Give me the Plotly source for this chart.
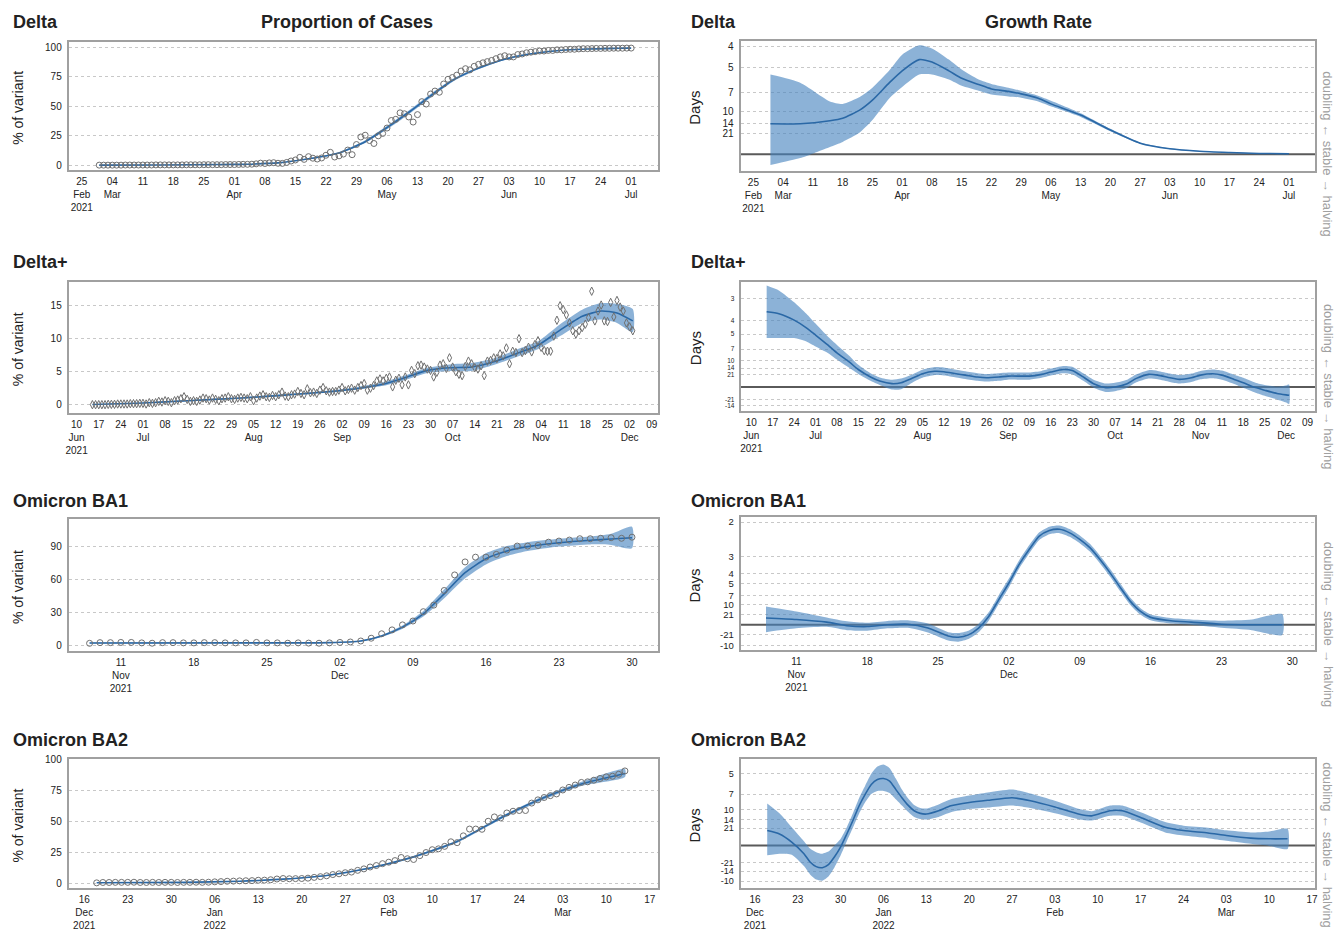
import plotly.graph_objects as go
import pandas as pd
import math

W, H = 1341, 931

# ------------------------------------------------------------------ data
# ---- Delta : proportion of cases (daily points from 2021-03-01)
delta_pts_start = "2021-03-01"
delta_pts = [
    0.1, 0.1, 0.1, 0.1, 0.1, 0.1, 0.2, 0.2, 0.2, 0.2, 0.2, 0.2, 0.2, 0.3, 0.3, 0.3,
    0.3, 0.3, 0.3, 0.3, 0.4, 0.4, 0.4, 0.4, 0.5, 0.5, 0.5, 0.5, 0.5, 0.6, 0.6,
    0.6, 0.7, 0.8, 0.8, 0.9, 1.2, 1.8, 1.5, 2.0, 2.2,
    1.7, 1.6, 2.4, 3.6, 4.5, 6.7, 5.0, 7.3, 6.0, 5.3,
    6.2, 8.5, 11.0, 7.0, 8.0, 9.5, 12.9, 9.0, 17.6, 24.0,
    25.5, 21.0, 18.5, 25.0, 27.0, 31.6, 38.0, 39.0, 44.5, 43.7,
    41.0, 36.7, 43.0, 54.0, 52.0, 60.5, 63.0, 62.0, 69.0, 73.0,
    74.5, 76.5, 80.0, 82.0, 81.0, 84.0, 85.7, 87.0, 88.0, 89.0, 90.5,
    92.0, 93.0, 92.0, 92.0, 94.0, 94.5, 95.5, 96.0, 96.5, 97.0,
    97.0, 97.5, 97.5, 98.0, 98.0, 98.3, 98.5, 98.5, 98.8, 99.0,
    99.0, 99.1, 99.2, 99.2, 99.3, 99.3, 99.4, 99.4, 99.4, 99.5,
    99.5,
]
delta_fit_dates = ["2021-03-01", "2021-03-15", "2021-03-29", "2021-04-04", "2021-04-11",
                   "2021-04-18", "2021-04-25", "2021-05-01", "2021-05-06", "2021-05-11",
                   "2021-05-16", "2021-05-21", "2021-05-26", "2021-06-01", "2021-06-07",
                   "2021-06-14", "2021-06-21", "2021-06-28", "2021-07-01"]
delta_fit = [0.1, 0.2, 0.6, 0.9, 2.0, 5.5, 10.5, 20.0, 32.0, 45.0, 59.0, 72.0, 81.0,
             89.0, 94.0, 97.3, 98.7, 99.3, 99.5]
delta_fit_lo = [0.05, 0.15, 0.5, 0.8, 1.8, 5.0, 9.7, 18.8, 30.5, 43.4, 57.4, 70.8, 80.0,
                88.3, 93.5, 97.0, 98.5, 99.1, 99.3]
delta_fit_hi = [0.15, 0.25, 0.7, 1.0, 2.2, 6.0, 11.3, 21.2, 33.5, 46.6, 60.6, 73.2, 82.0,
                89.7, 94.5, 97.6, 98.9, 99.5, 99.7]

# ---- Delta : growth rate (per day)
delta_gr_dates = ["2021-03-01", "2021-03-08", "2021-03-15", "2021-03-18", "2021-03-22",
                  "2021-03-25", "2021-03-29", "2021-04-01", "2021-04-05", "2021-04-08",
                  "2021-04-12", "2021-04-15", "2021-04-19", "2021-04-22", "2021-04-26",
                  "2021-04-29", "2021-05-03", "2021-05-06", "2021-05-13", "2021-05-20",
                  "2021-05-27", "2021-06-03", "2021-06-10", "2021-06-17", "2021-06-24",
                  "2021-07-01"]
delta_gr = [0.049, 0.049, 0.054, 0.058, 0.071, 0.087, 0.115, 0.134, 0.152, 0.148, 0.134,
            0.122, 0.112, 0.105, 0.101, 0.097, 0.090, 0.081, 0.063, 0.039, 0.018, 0.009,
            0.005, 0.003, 0.0015, 0.001]
delta_gr_hi = [0.128, 0.115, 0.085, 0.081, 0.092, 0.107, 0.135, 0.160, 0.175, 0.170, 0.152,
               0.136, 0.120, 0.113, 0.107, 0.102, 0.094, 0.086, 0.066, 0.041, 0.019, 0.0097,
               0.0055, 0.0034, 0.0019, 0.0014]
delta_gr_lo = [-0.017, -0.006, 0.012, 0.020, 0.035, 0.055, 0.090, 0.108, 0.128, 0.128, 0.120,
               0.110, 0.102, 0.096, 0.093, 0.091, 0.085, 0.077, 0.060, 0.037, 0.017, 0.0083,
               0.0045, 0.0026, 0.0011, 0.0006]

# ---- Delta+ : proportion of cases (daily points from 2021-06-15)
deltap_pts_start = "2021-06-15"
deltap_pts = [
    0.0, 0.0, 0.0, 0.0, 0.0, 0.05, 0.05, 0.05, 0.1, 0.1, 0.1, 0.1, 0.15, 0.15, 0.15, 0.2,
    0.2, 0.1, 0.3, 0.2, 0.3, 0.5, 0.4, 0.6, 0.5, 0.3, 0.6, 0.7, 0.9, 1.2, 0.8, 0.5,
    0.6, 0.5, 0.7, 1.0, 0.9, 0.7, 1.0, 0.8, 0.6, 0.9, 1.0, 1.2, 0.9, 0.8, 1.0,
    1.1, 1.0, 0.9, 1.2, 0.6, 1.0, 1.3, 1.5, 1.2, 1.1, 1.4, 1.2, 1.5, 1.9, 1.3, 1.2,
    1.5, 1.6, 2.0, 1.7, 1.5, 2.4, 1.8, 1.9, 1.7, 2.2, 2.6, 2.1, 1.9, 2.0, 2.0,
    2.2, 2.6, 2.1, 2.3, 2.5, 2.2, 2.6, 2.9, 3.2, 2.2, 2.5, 2.9, 3.6, 3.9,
    3.6, 4.0, 4.2, 2.7, 3.7, 4.0, 3.0, 4.2, 3.0, 5.2, 4.7, 5.9, 6.0, 5.7, 5.4, 5.2,
    4.2, 4.9, 6.0, 6.2, 5.5, 7.1, 5.7, 5.0, 4.6, 4.4, 5.8, 6.6, 6.2, 5.6, 5.4, 5.9,
    4.4, 6.6, 6.7, 7.1, 7.0, 7.7, 7.4, 8.6, 6.2, 8.1, 7.9, 10.0, 7.9, 8.2, 8.7,
    8.0, 9.1, 9.7, 8.7, 8.2, 8.1, 8.1, 10.4, 12.8, 15.0, 14.4, 13.6, 12.4, 11.2, 10.7,
    11.2, 11.7, 12.2, 13.2, 17.2, 12.7, 14.2, 15.1, 12.7, 12.6, 15.5, 13.3, 15.8, 14.8, 14.2,
    12.4, 11.8, 11.2,
]
deltap_fit_dates = ["2021-06-15", "2021-07-01", "2021-07-15", "2021-08-01", "2021-08-15",
                    "2021-09-01", "2021-09-15", "2021-09-22", "2021-09-29", "2021-10-06",
                    "2021-10-13", "2021-10-20", "2021-10-27", "2021-11-03", "2021-11-10",
                    "2021-11-17", "2021-11-23", "2021-11-28", "2021-12-03"]
deltap_fit = [0.02, 0.25, 0.6, 1.0, 1.45, 2.1, 3.1, 4.1, 5.2, 5.6, 5.7, 6.5, 7.7, 9.0,
              11.3, 13.4, 14.2, 13.9, 12.7]
deltap_fit_lo = [0.0, 0.2, 0.5, 0.9, 1.35, 1.95, 2.85, 3.75, 4.8, 5.1, 5.1, 6.0, 7.2, 8.4,
                 10.4, 12.4, 12.9, 12.4, 11.0]
deltap_fit_hi = [0.05, 0.3, 0.7, 1.1, 1.6, 2.3, 3.4, 4.45, 5.6, 6.1, 6.3, 7.0, 8.3, 9.6,
                 12.2, 14.4, 15.4, 15.3, 14.5]

# ---- Delta+ : growth rate
deltap_gr_dates = ["2021-06-15", "2021-06-19", "2021-06-24", "2021-06-28", "2021-07-01",
                   "2021-07-05", "2021-07-08", "2021-07-12", "2021-07-15", "2021-07-19",
                   "2021-07-22", "2021-07-26", "2021-07-29", "2021-08-02", "2021-08-05",
                   "2021-08-09", "2021-08-12", "2021-08-16", "2021-08-19", "2021-08-23",
                   "2021-08-26", "2021-08-30", "2021-09-02", "2021-09-06", "2021-09-09",
                   "2021-09-13", "2021-09-16", "2021-09-20", "2021-09-23", "2021-09-27",
                   "2021-09-30", "2021-10-04", "2021-10-07", "2021-10-11", "2021-10-14",
                   "2021-10-18", "2021-10-21", "2021-10-25", "2021-10-28", "2021-11-01",
                   "2021-11-04", "2021-11-08", "2021-11-11", "2021-11-15", "2021-11-18",
                   "2021-11-22", "2021-11-25", "2021-11-29", "2021-12-02", "2021-12-03"]
deltap_gr = [0.197, 0.192, 0.175, 0.155, 0.136, 0.110, 0.089, 0.0655, 0.0457, 0.026,
             0.0155, 0.0086, 0.011, 0.024, 0.0345, 0.041, 0.040, 0.0345, 0.031, 0.026,
             0.024, 0.026, 0.0284, 0.0284, 0.0284, 0.033, 0.039, 0.0457, 0.043, 0.024,
             0.0086, -0.0017, 0.0, 0.0086, 0.0224, 0.033, 0.031, 0.024, 0.0198, 0.024,
             0.031, 0.0345, 0.031, 0.0198, 0.011, -0.0017, -0.0086, -0.0172, -0.0207, -0.0216]
deltap_gr_hi = [0.266, 0.253, 0.222, 0.192, 0.166, 0.132, 0.110, 0.082, 0.058, 0.036,
                0.025, 0.019, 0.022, 0.034, 0.045, 0.052, 0.051, 0.045, 0.041, 0.036,
                0.034, 0.036, 0.038, 0.038, 0.038, 0.042, 0.048, 0.055, 0.053, 0.034,
                0.019, 0.009, 0.011, 0.019, 0.033, 0.044, 0.042, 0.035, 0.031, 0.035,
                0.042, 0.046, 0.043, 0.032, 0.024, 0.011, 0.005, 0.001, 0.004, 0.006]
deltap_gr_lo = [0.128, 0.128, 0.128, 0.119, 0.106, 0.089, 0.0716, 0.050, 0.034, 0.016,
                0.005, -0.007, -0.006, 0.013, 0.024, 0.031, 0.030, 0.025, 0.021, 0.016,
                0.014, 0.016, 0.019, 0.019, 0.019, 0.024, 0.030, 0.036, 0.033, 0.014,
                -0.002, -0.013, -0.011, -0.002, 0.012, 0.022, 0.020, 0.013, 0.009, 0.013,
                0.020, 0.023, 0.019, 0.008, -0.002, -0.015, -0.023, -0.033, -0.041, -0.045]

# ---- Omicron BA1 : proportion of cases (daily points from 2021-11-08)
ba1_pts_start = "2021-11-08"
ba1_pts = [
    2.4, 3.0, 3.0, 3.2, 3.2, 2.8, 2.5, 3.0, 3.0, 2.8, 2.8, 3.0, 3.0, 2.8, 2.8, 2.8,
    3.2, 2.8, 2.8, 2.5, 2.8, 2.6, 2.5, 2.8, 3.2, 3.6,
    4.5, 7.0, 11.0, 14.5, 19.0, 22.5, 30.9, 36.8, 50.0, 64.0, 75.7, 80.0, 80.0, 82.5,
    86.4, 90.0, 90.0, 90.5, 93.5, 94.5, 95.4, 96.6, 96.6, 97.0, 97.5, 97.0, 98.0,
]
ba1_fit_dates = ["2021-11-08", "2021-11-22", "2021-12-01", "2021-12-04", "2021-12-06",
                 "2021-12-08", "2021-12-10", "2021-12-12", "2021-12-14", "2021-12-16",
                 "2021-12-18", "2021-12-20", "2021-12-23", "2021-12-26", "2021-12-28",
                 "2021-12-30"]
ba1_fit = [2.7, 2.8, 3.0, 4.5, 9.0, 17.0, 29.0, 47.0, 66.0, 78.5, 85.5, 89.5, 93.0,
           95.2, 96.3, 97.5]
ba1_fit_lo = [2.3, 2.5, 2.7, 4.0, 8.0, 15.5, 26.5, 43.0, 61.0, 73.5, 81.0, 85.5, 89.5,
              91.5, 91.0, 88.0]
ba1_fit_hi = [3.1, 3.1, 3.3, 5.0, 10.0, 18.5, 31.5, 51.0, 71.0, 83.5, 90.0, 93.5, 96.5,
              98.5, 101.0, 107.5]

# ---- Omicron BA1 : growth rate
ba1_gr_dates = ["2021-11-08", "2021-11-11", "2021-11-14", "2021-11-16", "2021-11-18",
                "2021-11-20", "2021-11-22", "2021-11-24", "2021-11-26", "2021-11-27",
                "2021-11-28", "2021-11-29", "2021-11-30", "2021-12-01", "2021-12-02",
                "2021-12-03", "2021-12-04", "2021-12-05", "2021-12-06", "2021-12-07",
                "2021-12-08", "2021-12-09", "2021-12-10", "2021-12-11", "2021-12-12",
                "2021-12-13", "2021-12-14", "2021-12-15", "2021-12-16", "2021-12-18",
                "2021-12-20", "2021-12-23", "2021-12-26", "2021-12-29"]
ba1_gr = [0.023, 0.018, 0.009, -0.003, -0.006, 0.000, 0.002, -0.011, -0.038, -0.042,
          -0.034, -0.011, 0.028, 0.085, 0.141, 0.203, 0.254, 0.299, 0.318, 0.322, 0.310,
          0.288, 0.260, 0.220, 0.175, 0.126, 0.079, 0.045, 0.025, 0.0135, 0.009, 0.002,
          0.0, 0.0]
ba1_gr_hi = [0.062, 0.045, 0.025, 0.012, 0.007, 0.013, 0.015, 0.004, -0.025, -0.028,
             -0.020, 0.003, 0.042, 0.100, 0.156, 0.217, 0.268, 0.312, 0.331, 0.335, 0.323,
             0.301, 0.273, 0.233, 0.188, 0.139, 0.091, 0.056, 0.035, 0.023, 0.018, 0.014,
             0.018, 0.036]
ba1_gr_lo = [-0.025, -0.012, -0.007, -0.018, -0.020, -0.012, -0.010, -0.026, -0.053,
             -0.057, -0.048, -0.025, 0.014, 0.070, 0.126, 0.189, 0.240, 0.286, 0.305,
             0.309, 0.297, 0.275, 0.247, 0.207, 0.162, 0.113, 0.067, 0.034, 0.015, 0.004,
             0.0, -0.010, -0.018, -0.034]

# ---- Omicron BA2 : proportion of cases (daily points from 2021-12-18)
ba2_pts_start = "2021-12-18"
ba2_pts = [
    0.5, 0.8, 0.8, 0.9, 0.9, 0.9, 1.0, 0.8, 0.8, 0.9, 0.8, 0.9, 0.9, 0.8,
    0.9, 0.9, 1.0, 0.9, 1.0, 1.3, 1.5, 1.8, 1.9, 2.1, 2.2, 2.3, 2.6, 2.7, 3.0, 3.6,
    4.0, 3.8, 3.9, 4.0, 4.3, 4.9, 5.5, 6.2, 7.2, 7.8, 8.7, 9.2, 10.6, 11.8, 13.3,
    14.5, 16.0, 17.2, 18.5, 21.0, 20.0, 19.4, 22.5, 25.0, 27.3, 28.0, 30.0, 33.7, 33.0,
    38.5, 44.0, 44.0, 43.8, 50.3, 53.8, 53.0, 57.0, 58.4, 59.0, 59.0, 65.0, 67.6, 69.5,
    71.0, 72.4, 75.6, 77.7, 79.6, 81.7, 82.2, 83.5, 84.9, 86.2, 86.7, 88.3, 91.0,
]
ba2_fit_dates = ["2021-12-18", "2022-01-01", "2022-01-10", "2022-01-17", "2022-01-24",
                 "2022-01-31", "2022-02-07", "2022-02-14", "2022-02-21", "2022-02-28",
                 "2022-03-06", "2022-03-13"]
ba2_fit = [0.6, 0.9, 1.8, 3.5, 6.5, 12.5, 21.5, 34.0, 53.0, 69.5, 80.5, 89.0]
ba2_fit_lo = [0.5, 0.8, 1.6, 3.2, 6.1, 11.9, 20.7, 33.0, 51.8, 68.0, 78.8, 86.0]
ba2_fit_hi = [0.7, 1.0, 2.0, 3.8, 6.9, 13.1, 22.3, 35.0, 54.2, 71.0, 82.2, 92.5]

# ---- Omicron BA2 : growth rate
ba2_gr_dates = ["2021-12-18", "2021-12-20", "2021-12-22", "2021-12-24", "2021-12-25",
                "2021-12-26", "2021-12-27", "2021-12-28", "2021-12-29", "2021-12-30",
                "2021-12-31", "2022-01-01", "2022-01-02", "2022-01-03", "2022-01-04",
                "2022-01-05", "2022-01-06", "2022-01-07", "2022-01-08", "2022-01-09",
                "2022-01-10", "2022-01-11", "2022-01-12", "2022-01-13", "2022-01-15",
                "2022-01-17", "2022-01-20", "2022-01-23", "2022-01-27", "2022-01-30",
                "2022-02-03", "2022-02-07", "2022-02-09", "2022-02-12", "2022-02-14",
                "2022-02-17", "2022-02-21", "2022-02-24", "2022-02-28", "2022-03-03",
                "2022-03-07", "2022-03-10", "2022-03-13"]
ba2_gr = [0.0286, 0.022, 0.0064, -0.016, -0.032, -0.041, -0.043, -0.037, -0.022, -0.003,
          0.022, 0.048, 0.076, 0.0985, 0.1176, 0.127, 0.129, 0.124, 0.108, 0.092, 0.0776,
          0.0668, 0.0617, 0.0604, 0.0668, 0.0763, 0.0826, 0.087, 0.092, 0.086, 0.074,
          0.060, 0.057, 0.0668, 0.0668, 0.054, 0.035, 0.0286, 0.024, 0.019, 0.014,
          0.0127, 0.0127]
ba2_gr_hi = [0.081, 0.062, 0.035, 0.008, -0.006, -0.013, -0.016, -0.012, 0.0, 0.013,
             0.035, 0.062, 0.091, 0.115, 0.138, 0.152, 0.156, 0.149, 0.129, 0.108, 0.091,
             0.078, 0.072, 0.071, 0.079, 0.089, 0.096, 0.102, 0.108, 0.100, 0.086, 0.070,
             0.066, 0.077, 0.077, 0.064, 0.045, 0.038, 0.034, 0.029, 0.025, 0.027, 0.032]
ba2_gr_lo = [-0.019, -0.016, -0.018, -0.040, -0.056, -0.066, -0.068, -0.060, -0.042,
             -0.019, 0.008, 0.034, 0.061, 0.083, 0.099, 0.105, 0.105, 0.101, 0.089, 0.077,
             0.065, 0.055, 0.051, 0.050, 0.055, 0.064, 0.070, 0.073, 0.077, 0.072, 0.062,
             0.050, 0.048, 0.057, 0.057, 0.044, 0.025, 0.019, 0.014, 0.009, 0.003, -0.001,
             -0.007]

# ---- axis ticks
prop_ticks_delta = [0, 25, 50, 75, 100]
prop_ticks_deltap = [0, 5, 10, 15]
prop_ticks_ba1 = [0, 30, 60, 90]
prop_ticks_ba2 = [0, 25, 50, 75, 100]

days_ticks_delta = [4, 5, 7, 10, 14, 21]
days_ticks_deltap = [3, 4, 5, 7, 10, 14, 21, -21, -14]
days_ticks_ba1 = [2, 3, 4, 5, 7, 10, 21, -21, -10]
days_ticks_ba2 = [5, 7, 10, 14, 21, -21, -14, -10]

x_ticks_delta = ["2021-02-25", "2021-03-04", "2021-03-11", "2021-03-18", "2021-03-25",
                 "2021-04-01", "2021-04-08", "2021-04-15", "2021-04-22", "2021-04-29",
                 "2021-05-06", "2021-05-13", "2021-05-20", "2021-05-27", "2021-06-03",
                 "2021-06-10", "2021-06-17", "2021-06-24", "2021-07-01"]
x_labels_delta = ["25<br>Feb<br>2021", "04<br>Mar", "11", "18", "25", "01<br>Apr", "08",
                  "15", "22", "29", "06<br>May", "13", "20", "27", "03<br>Jun", "10", "17",
                  "24", "01<br>Jul"]
x_ticks_deltap = ["2021-06-10", "2021-06-17", "2021-06-24", "2021-07-01", "2021-07-08",
                  "2021-07-15", "2021-07-22", "2021-07-29", "2021-08-05", "2021-08-12",
                  "2021-08-19", "2021-08-26", "2021-09-02", "2021-09-09", "2021-09-16",
                  "2021-09-23", "2021-09-30", "2021-10-07", "2021-10-14", "2021-10-21",
                  "2021-10-28", "2021-11-04", "2021-11-11", "2021-11-18", "2021-11-25",
                  "2021-12-02", "2021-12-09"]
x_labels_deltap = ["10<br>Jun<br>2021", "17", "24", "01<br>Jul", "08", "15", "22", "29",
                   "05<br>Aug", "12", "19", "26", "02<br>Sep", "09", "16", "23", "30",
                   "07<br>Oct", "14", "21", "28", "04<br>Nov", "11", "18", "25",
                   "02<br>Dec", "09"]
x_ticks_ba1 = ["2021-11-11", "2021-11-18", "2021-11-25", "2021-12-02", "2021-12-09",
               "2021-12-16", "2021-12-23", "2021-12-30"]
x_labels_ba1 = ["11<br>Nov<br>2021", "18", "25", "02<br>Dec", "09", "16", "23", "30"]
x_ticks_ba2 = ["2021-12-16", "2021-12-23", "2021-12-30", "2022-01-06", "2022-01-13",
               "2022-01-20", "2022-01-27", "2022-02-03", "2022-02-10", "2022-02-17",
               "2022-02-24", "2022-03-03", "2022-03-10", "2022-03-17"]
x_labels_ba2 = ["16<br>Dec<br>2021", "23", "30", "06<br>Jan<br>2022", "13", "20", "27",
                "03<br>Feb", "10", "17", "24", "03<br>Mar", "10", "17"]

variant_names = ["Delta", "Delta+", "Omicron BA1", "Omicron BA2"]

# ------------------------------------------------------------------ style / layout
FONT = "Liberation Sans, Arial, Helvetica, sans-serif"
RIBBON = "rgba(70,130,190,0.62)"
LINE = "#2a68a6"
BOX = "#a0a0a0"
GRID = "#c8c8c8"
PT = "#707070"

LEFT_X = (66, 658)
RIGHT_X = (741, 1318)
LEFT_Y = [(37, 167), (280, 412), (520, 653), (762, 893)]
RIGHT_Y = [(36, 168), (280, 410), (518, 652), (762, 893)]
TITLE_Y = [17, 260, 501, 743]
GR_TICKFONT = [10, 6.5, 9.5, 9]

prop_yrange = [[-4.2, 105], [-1.2, 18.6], [-4.5, 114], [-4, 100.8]]
gr_yrange = [[-0.027, 0.1825], [-0.062, 0.275], [-0.085, 0.362], [-0.083, 0.167]]
prop_xrange = [["2021-02-22", "2021-07-07 04:00"],
               ["2021-06-07 12:00", "2021-12-11"],
               ["2021-11-06", "2022-01-01 12:00"],
               ["2021-12-13 12:00", "2022-03-18 08:00"]]
gr_xrange = [["2021-02-22", "2021-07-07 04:00"],
             ["2021-06-06 12:00", "2021-12-11 12:00"],
             ["2021-11-05 12:00", "2022-01-01 06:00"],
             ["2021-12-13 16:00", "2022-03-17 12:00"]]

LN2 = math.log(2)


def px_x(p):
    return p / W


def px_y(p):
    return 1 - p / H


fig = go.Figure()

rows = [
    dict(pts_start=delta_pts_start, pts=delta_pts, fd=delta_fit_dates, f=delta_fit,
         flo=delta_fit_lo, fhi=delta_fit_hi, gd=delta_gr_dates, g=delta_gr,
         glo=delta_gr_lo, ghi=delta_gr_hi, pt=prop_ticks_delta, dt=days_ticks_delta,
         xt=x_ticks_delta, xl=x_labels_delta, sym="circle-open"),
    dict(pts_start=deltap_pts_start, pts=deltap_pts, fd=deltap_fit_dates, f=deltap_fit,
         flo=deltap_fit_lo, fhi=deltap_fit_hi, gd=deltap_gr_dates, g=deltap_gr,
         glo=deltap_gr_lo, ghi=deltap_gr_hi, pt=prop_ticks_deltap, dt=days_ticks_deltap,
         xt=x_ticks_deltap, xl=x_labels_deltap, sym="diamond-tall-open"),
    dict(pts_start=ba1_pts_start, pts=ba1_pts, fd=ba1_fit_dates, f=ba1_fit,
         flo=ba1_fit_lo, fhi=ba1_fit_hi, gd=ba1_gr_dates, g=ba1_gr,
         glo=ba1_gr_lo, ghi=ba1_gr_hi, pt=prop_ticks_ba1, dt=days_ticks_ba1,
         xt=x_ticks_ba1, xl=x_labels_ba1, sym="circle-open"),
    dict(pts_start=ba2_pts_start, pts=ba2_pts, fd=ba2_fit_dates, f=ba2_fit,
         flo=ba2_fit_lo, fhi=ba2_fit_hi, gd=ba2_gr_dates, g=ba2_gr,
         glo=ba2_gr_lo, ghi=ba2_gr_hi, pt=prop_ticks_ba2, dt=days_ticks_ba2,
         xt=x_ticks_ba2, xl=x_labels_ba2, sym="circle-open"),
]

layout = dict(
    width=W, height=H, margin=dict(l=0, r=0, t=0, b=0),
    paper_bgcolor="white", plot_bgcolor="white", showlegend=False,
    font=dict(family=FONT, color="#222222", size=10),
)
annotations = []
shapes = []


def axis_common(fs=10):
    return dict(showline=True, mirror=True, linecolor=BOX, linewidth=2,
                zeroline=False, ticks="outside", tickcolor="rgba(0,0,0,0)",
                tickfont=dict(family=FONT, size=fs, color="#222222"))


def ribbon(x, lo, hi, xa, ya):
    return go.Scatter(x=list(x) + list(x)[::-1], y=list(hi) + list(lo)[::-1],
                      fill="toself", fillcolor=RIBBON, mode="lines",
                      line=dict(width=0, shape="spline", smoothing=0.6),
                      hoverinfo="skip", xaxis=xa, yaxis=ya)


def text_ann(text, x, y, size, angle=0, xanchor="center", color="#222222", yref="paper"):
    return dict(text=text, x=x, y=y, xref="paper", yref=yref, showarrow=False,
                textangle=angle, xanchor=xanchor, yanchor="middle",
                font=dict(family=FONT, size=size, color=color))


for i, r in enumerate(rows):
    li = 2 * i + 1
    ri = 2 * i + 2
    # ------------- left (proportion)
    xa, ya = f"x{li}", f"y{li}"
    top, bot = LEFT_Y[i]
    layout[f"xaxis{li}"] = dict(
        axis_common(), domain=[px_x(LEFT_X[0]), px_x(LEFT_X[1])], anchor=ya,
        type="date", range=prop_xrange[i], tickvals=r["xt"], ticktext=r["xl"],
        tickangle=0, ticklen=1, showgrid=False)
    layout[f"yaxis{li}"] = dict(
        axis_common(), domain=[px_y(bot), px_y(top)], anchor=xa,
        range=prop_yrange[i], tickvals=r["pt"], ticktext=[str(v) for v in r["pt"]],
        ticklen=3, showgrid=True, gridcolor=GRID, griddash="dot", gridwidth=1)
    fig.add_trace(ribbon(r["fd"], r["flo"], r["fhi"], xa, ya))
    fig.add_trace(go.Scatter(x=r["fd"], y=r["f"], mode="lines",
                             line=dict(color=LINE, width=1.6, shape="spline", smoothing=0.6),
                             xaxis=xa, yaxis=ya))
    pdates = pd.date_range(r["pts_start"], periods=len(r["pts"]), freq="D")
    fig.add_trace(go.Scatter(x=pdates, y=r["pts"], mode="markers",
                             marker=dict(symbol=r["sym"], size=6,
                                         color=PT, line=dict(width=1, color=PT)),
                             xaxis=xa, yaxis=ya))
    annotations.append(text_ann("% of variant", px_x(15), px_y((top + bot) / 2 + 2), 14, -90))
    annotations.append(text_ann(f"<b>{variant_names[i]}</b>", px_x(8), px_y(TITLE_Y[i]),
                                18, xanchor="left"))

    # ------------- right (growth rate)
    xa, ya = f"x{ri}", f"y{ri}"
    top, bot = RIGHT_Y[i]
    layout[f"xaxis{ri}"] = dict(
        axis_common(), domain=[px_x(RIGHT_X[0]), px_x(RIGHT_X[1])], anchor=ya,
        type="date", range=gr_xrange[i], tickvals=r["xt"], ticktext=r["xl"],
        tickangle=0, ticklen=1, showgrid=False)
    layout[f"yaxis{ri}"] = dict(
        axis_common(GR_TICKFONT[i]), domain=[px_y(bot), px_y(top)], anchor=xa,
        range=gr_yrange[i], tickvals=[LN2 / d for d in r["dt"]],
        ticktext=[str(d) for d in r["dt"]],
        ticklen=3, showgrid=True, gridcolor=GRID, griddash="dot", gridwidth=1)
    shapes.append(dict(type="line", xref=f"{xa} domain", x0=0, x1=1, yref=ya, y0=0, y1=0,
                       line=dict(color="#5a5a5a", width=2), layer="below"))
    fig.add_trace(ribbon(r["gd"], r["glo"], r["ghi"], xa, ya))
    fig.add_trace(go.Scatter(x=r["gd"], y=r["g"], mode="lines",
                             line=dict(color=LINE, width=1.6, shape="spline", smoothing=0.6),
                             xaxis=xa, yaxis=ya))
    annotations.append(text_ann("Days", px_x(695), px_y((top + bot) / 2 + 2), 15, -90))
    annotations.append(text_ann(f"<b>{variant_names[i]}</b>", px_x(689), px_y(TITLE_Y[i]),
                                18, xanchor="left"))
    annotations.append(text_ann("doubling \u2190 stable \u2192 halving", px_x(1331), 0, 13,
                                90, color="#a0a0a0", yref=ya))

annotations.append(text_ann("<b>Proportion of Cases</b>", px_x(346), px_y(TITLE_Y[0]), 18))
annotations.append(text_ann("<b>Growth Rate</b>", px_x(1040), px_y(TITLE_Y[0]), 18))

layout["annotations"] = annotations
layout["shapes"] = shapes
fig.update_layout(**layout)
fig.write_html("out.html")
